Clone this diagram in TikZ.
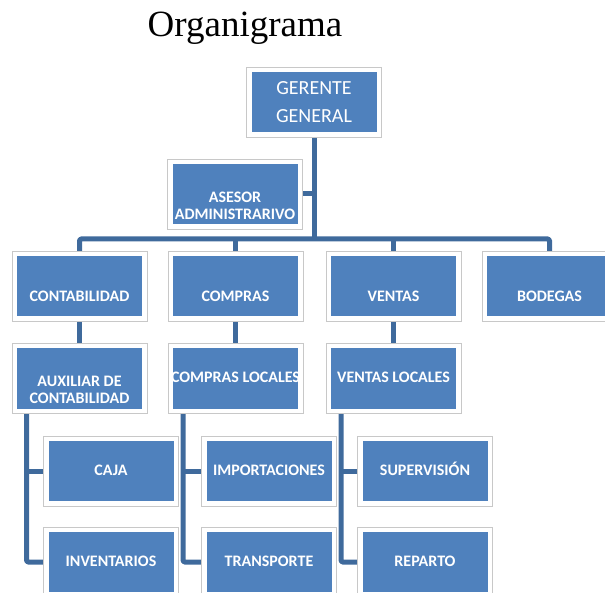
\documentclass[tikz,border=0pt]{standalone}
\usepackage{fontspec}
\setmainfont{Liberation Serif}
\newfontfamily\boxfont{Carlito}
\usetikzlibrary{backgrounds}
\definecolor{boxblue}{HTML}{4F81BD}
\definecolor{linkblue}{HTML}{3F6A9C}
\definecolor{rim}{HTML}{C8C8C8}
\tikzset{
  unit/.style={fill=white, draw=rim, line width=0.8pt,
    minimum width=135pt, minimum height=70pt, inner sep=0pt, outer sep=0pt,
    path picture={\fill[boxblue]
      ([shift={(5pt,5pt)}]path picture bounding box.south west) rectangle
      ([shift={(-5pt,-5pt)}]path picture bounding box.north east);}},
  lbl/.style={text=white, inner sep=0pt, align=center,
    font=\boxfont\bfseries\fontsize{16}{16.8}\selectfont},
  headlbl/.style={text=white, inner sep=0pt, align=center,
    font=\boxfont\fontsize{20}{28}\selectfont},
  link/.style={draw=linkblue, line width=5pt, line join=round, rounded corners=1.5pt}
}
\begin{document}
\begin{tikzpicture}[x=1pt,y=-1pt]
\useasboundingbox (0,0) rectangle (605,593);

% title
\node[anchor=base, inner sep=0pt, font=\fontsize{37}{40}\selectfont] (title) at (245,37) {Organigrama};

% boxes
\node[unit] (ger) at (314,102) {};
\node[unit] (ase) at (235,194) {};
\node[unit] (con) at (79.5,286.5) {};
\node[unit] (com) at (235.5,286.5) {};
\node[unit] (ven) at (393.5,286.5) {};
\node[unit] (bod) at (549.5,286.5) {};
\node[unit] (aux) at (79.5,378.5) {};
\node[unit] (cml) at (235.5,378.5) {};
\node[unit] (vml) at (393.5,378.5) {};
\node[unit] (caj) at (111,471) {};
\node[unit] (imp) at (269,471) {};
\node[unit] (sup) at (425,471) {};
\node[unit] (inv) at (111,562) {};
\node[unit] (tra) at (269,562) {};
\node[unit] (rep) at (425,562) {};

% labels
\node[headlbl, anchor=north] (gerT) at ([yshift=20.9pt]ger.center) {GERENTE\\GENERAL};
\node[lbl, anchor=north] (aseT) at ([yshift=2.3pt]ase.center) {ASESOR\\ADMINISTRARIVO};
\node[lbl, anchor=base] (conT) at ([yshift=-15.5pt]con.center) {CONTABILIDAD};
\node[lbl, anchor=base] (comT) at ([yshift=-15.5pt]com.center) {COMPRAS};
\node[lbl, anchor=base] (venT) at ([yshift=-15.5pt]ven.center) {VENTAS};
\node[lbl, anchor=base] (bodT) at ([yshift=-15.5pt]bod.center) {BODEGAS};
\node[lbl, anchor=north] (auxT) at ([yshift=2.8pt]aux.center) {AUXILIAR DE\\CONTABILIDAD};
\begin{scope}
  \clip ([xshift=-62.5pt,yshift=-30pt]cml.center) rectangle ([xshift=62.5pt,yshift=30pt]cml.center);
  \node[lbl, anchor=base] (cmlT) at ([yshift=-4.5pt]cml.center) {COMPRAS LOCALES};
\end{scope}
\node[lbl, anchor=base] (vmlT) at ([yshift=-4.5pt]vml.center) {VENTAS LOCALES};
\node[lbl, anchor=base] (cajT) at ([yshift=-4.5pt]caj.center) {CAJA};
\node[lbl, anchor=base] (impT) at ([yshift=-4.5pt]imp.center) {IMPORTACIONES};
\node[lbl, anchor=base] (supT) at ([yshift=-4.5pt]sup.center) {SUPERVISIÓN};
\node[lbl, anchor=base] (invT) at ([yshift=-4.5pt]inv.center) {INVENTARIOS};
\node[lbl, anchor=base] (traT) at ([yshift=-4.5pt]tra.center) {TRANSPORTE};
\node[lbl, anchor=base] (repT) at ([yshift=-4.5pt]rep.center) {REPARTO};

% connectors
\coordinate (bus) at (314,239);
\coordinate (auxdrop) at ([xshift=-53pt]aux.south);
\coordinate (cmldrop) at ([xshift=-52.5pt]cml.south);
\coordinate (vmldrop) at ([xshift=-52.5pt]vml.south);
\begin{scope}[on background layer]
  \draw[link] (ger.south) -- (bus);
  \draw[link] (ase.east) -- (ase.east -| ger.south);
  \draw[link] (con.north) |- (bus) -| (bod.north);
  \draw[link] (com.north) -- (com.north |- bus);
  \draw[link] (ven.north) -- (ven.north |- bus);
  \draw[link] (con.south) -- (aux.north);
  \draw[link] (com.south) -- (cml.north);
  \draw[link] (ven.south) -- (vml.north);
  \draw[link] (auxdrop) |- (inv.west);
  \draw[link] (caj.west) -- (caj.west -| auxdrop);
  \draw[link] (cmldrop) |- (tra.west);
  \draw[link] (imp.west) -- (imp.west -| cmldrop);
  \draw[link] (vmldrop) |- (rep.west);
  \draw[link] (sup.west) -- (sup.west -| vmldrop);
\end{scope}
\end{tikzpicture}
\end{document}
